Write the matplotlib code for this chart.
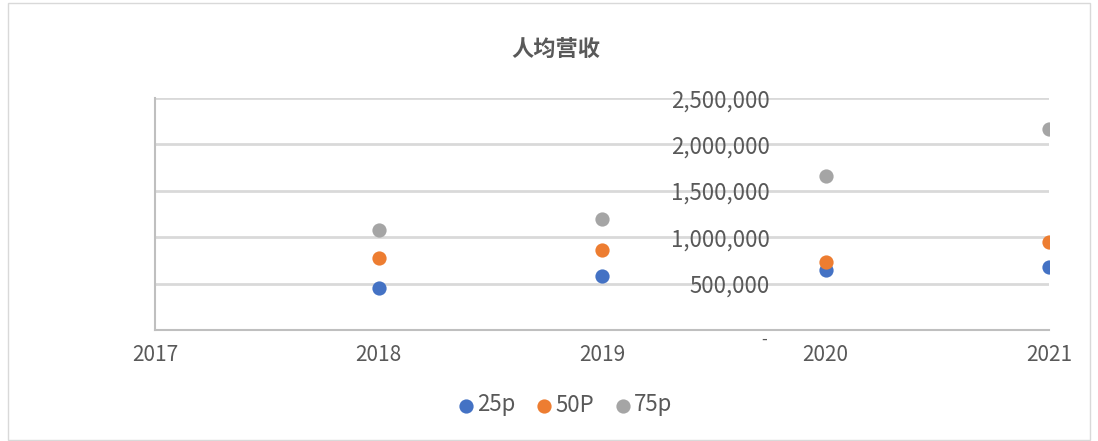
import matplotlib.pyplot as plt
from matplotlib.patches import Rectangle

plt.rcParams['font.family'] = ['Noto Sans CJK SC', 'DejaVu Sans']

years = [2018, 2019, 2020, 2021]
p25 = [453000, 582000, 647000, 679000]
p50 = [776000, 862000, 733000, 948000]
p75 = [1078000, 1196000, 1664000, 2166000]
series = [('25p', p25, '#4472C4'), ('50P', p50, '#ED7D31'), ('75p', p75, '#A5A5A5')]
x_ticks = [2017, 2018, 2019, 2020, 2021]
y_ticks = [0, 500000, 1000000, 1500000, 2000000, 2500000]

W, H = 1098, 441
fig = plt.figure(figsize=(W / 100, H / 100), dpi=100)
fig.patches.append(Rectangle((8 / W, 1 / H), 1082 / W, 437 / H, transform=fig.transFigure,
                             fill=False, edgecolor='#d9d9d9', lw=1))
ax = fig.add_axes([155 / W, 1 - 330 / H, (1049 - 155) / W, (330 - 98) / H])

for name, vals, col in series:
    ax.scatter(years, vals, s=105, color=col, label=name, zorder=3, linewidths=0)

ax.set_xlim(2017, 2021)
ax.set_ylim(0, 2500000)
for y in y_ticks[1:]:
    ax.axhline(y, color='#d9d9d9', lw=2, zorder=1)

for s in ['top', 'right']:
    ax.spines[s].set_visible(False)
ax.spines['left'].set_color('#bfbfbf')
ax.spines['bottom'].set_color('#bfbfbf')
ax.spines['left'].set_linewidth(1.5)
ax.spines['bottom'].set_linewidth(1.5)

ax.set_xticks(x_ticks)
ax.set_xticklabels([str(x) for x in x_ticks])
ax.tick_params(axis='x', length=0, pad=10, labelsize=15, labelcolor='#595959')
ax.set_yticks([])

# y labels sit in the middle of the plot, like the original Excel chart
lab_x = 2017 + (770 - 155) / 223.5
for y in y_ticks[1:]:
    ax.text(lab_x, y - 30000, f'{y:,}', ha='right', va='center', fontsize=16, color='#595959',
            zorder=2)
ax.text(lab_x - 0.015, -10000, '-', ha='right', va='top', fontsize=12, color='#595959')

fig.text(556 / W, 1 - 50 / H, '人均营收', ha='center', va='center', fontsize=16,
         fontweight='bold', color='#595959')

fig.legend(loc='center', bbox_to_anchor=(558 / W, 1 - 405 / H), ncol=3, frameon=False,
           fontsize=16, handletextpad=-0.5, columnspacing=0.3, markerscale=1.0,
           labelcolor='#595959')

fig.savefig('out.png', dpi=100)
